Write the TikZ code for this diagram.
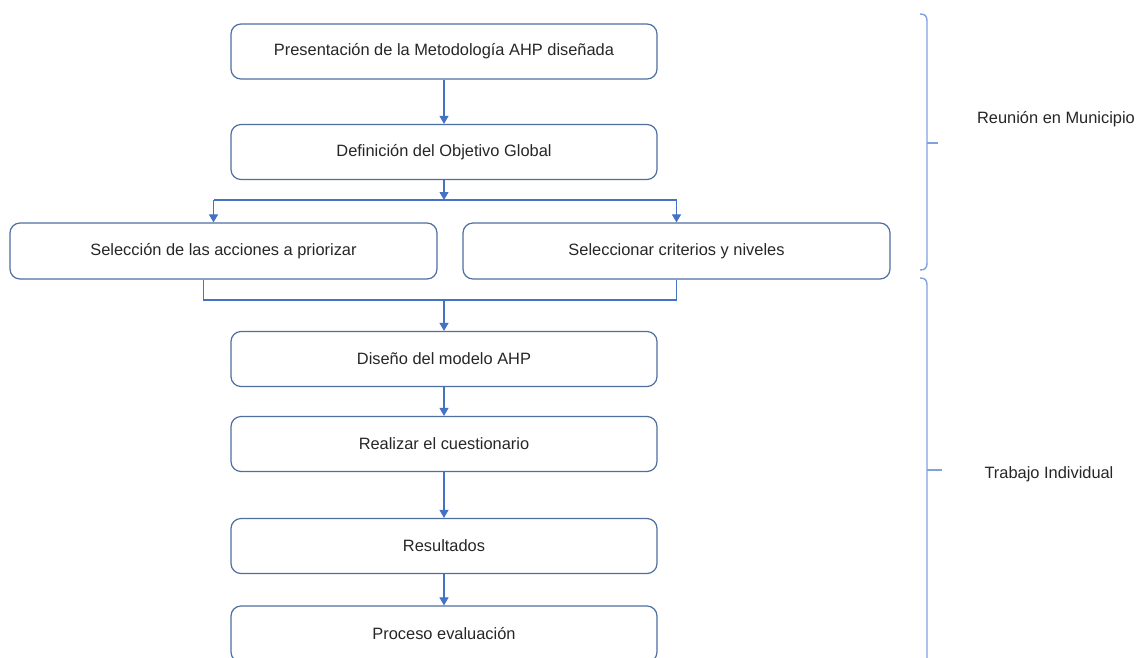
\documentclass[tikz,border=0pt]{standalone}
\usepackage{fontspec}
\setmainfont{Liberation Sans}
\usetikzlibrary{arrows.meta}
\definecolor{boxline}{HTML}{4F6FA0}
\definecolor{flowline}{HTML}{4472C4}
\definecolor{braceline}{HTML}{7FA2DE}
\definecolor{labeltext}{HTML}{262626}
\tikzset{
  stage/.style={draw=boxline, line width=1.2pt, rounded corners=10pt, minimum width=426pt, minimum height=55pt, inner sep=0pt, text=labeltext, font=\fontsize{16.4}{19}\selectfont},
  flow/.style={draw=flowline, line width=1.1pt, -{Triangle[width=9pt,length=8pt]}},
  link/.style={draw=flowline, line width=1.1pt},
  curly/.style={draw=braceline, line width=1.4pt},
  phase/.style={text=labeltext, font=\fontsize{16.4}{19}\selectfont}
}
\begin{document}
\begin{tikzpicture}[x=1pt,y=-1pt]
    \useasboundingbox (0,0) rectangle (1136,657);
    \clip (0,0) rectangle (1136,657);
    \node[stage] (pres) at (444,51.5) {Presentación de la Metodología AHP diseñada};
    \node[stage] (objetivo) at (444,152) {Definición del Objetivo Global};
    \node[stage, minimum width=427pt, minimum height=56pt] (acciones) at (223.5,251) {Selección de las acciones a priorizar};
    \node[stage, minimum width=427pt, minimum height=56pt] (criterios) at (676.5,251) {Seleccionar criterios y niveles};
    \node[stage] (diseno) at (444,359) {Diseño del modelo AHP};
    \node[stage] (cuestionario) at (444,444) {Realizar el cuestionario};
    \node[stage] (resultados) at (444,546) {Resultados};
    \node[stage, minimum height=56pt] (evaluacion) at (444,634) {Proceso evaluación};
    \coordinate (split) at (444,200);
    \coordinate (merge) at (444,300);
    \draw[flow] (pres) -- (objetivo);
    \draw[flow] (objetivo) -- (split);
    \draw[link] ([xshift=-10pt]acciones.north |- split) -- (criterios.north |- split);
    \draw[flow] ([xshift=-10pt]acciones.north |- split) -- ([xshift=-10pt]acciones.north);
    \draw[flow] (criterios.north |- split) -- (criterios.north);
    \draw[link] ([xshift=-20pt]acciones.south) -- ([xshift=-20pt]acciones.south |- merge) -- (criterios.south |- merge) -- (criterios.south);
    \draw[flow] (merge) -- (diseno);
    \draw[flow] (diseno) -- (cuestionario);
    \draw[flow] (cuestionario) -- (resultados);
    \draw[flow] (resultados) -- (evaluacion);
    \draw[curly] (920,14) .. controls (925,14) and (927,16) .. (927,21) -- (927,263) .. controls (927,268) and (925,270) .. (920,270);
    \draw[curly] (927,143) -- (938,143);
    \draw[curly] (920,278) .. controls (925,278) and (927,280) .. (927,285) -- (927,670);
    \draw[curly] (927,470) -- (942,470);
    \node[phase] (reunion) at (1056,119) {Reunión en Municipio};
    \node[phase] (trabajo) at (1049,474) {Trabajo Individual};
\end{tikzpicture}
\end{document}
